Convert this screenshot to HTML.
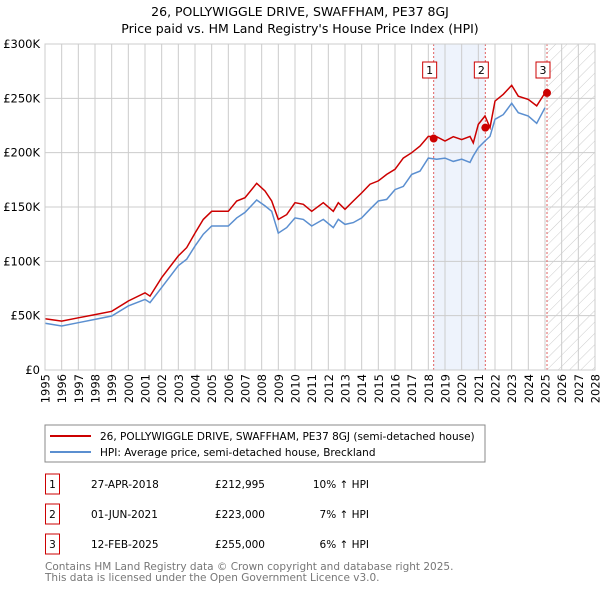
<!DOCTYPE html>
<html><head><meta charset="utf-8"><style>
body{margin:0;background:#fff;font-family:"DejaVu Sans","Liberation Sans",sans-serif;}
#wrap{position:relative;width:600px;height:590px;overflow:hidden}
</style></head><body><div id="wrap">
<svg id="svg" width="600" height="590" style="position:absolute;left:0;top:0" font-family="DejaVu Sans, Liberation Sans, sans-serif">
<defs><pattern id="hatch" patternUnits="userSpaceOnUse" width="8" height="8" patternTransform="rotate(45)"><line x1="0" y1="0" x2="0" y2="8" stroke="#ccc" stroke-width="1"/></pattern></defs>
<text x="300" y="16" text-anchor="middle" font-size="12.5">26, POLLYWIGGLE DRIVE, SWAFFHAM, PE37 8GJ</text>
<text x="300" y="33" text-anchor="middle" font-size="12.5">Price paid vs. HM Land Registry's House Price Index (HPI)</text>
<g id="plot"></g>
<rect x="45" y="425" width="440" height="37" fill="#fff" stroke="#888"/>
<line x1="50" y1="436" x2="91" y2="436" stroke="#cc0000" stroke-width="2"/>
<text x="100" y="440" font-size="10.5">26, POLLYWIGGLE DRIVE, SWAFFHAM, PE37 8GJ (semi-detached house)</text>
<line x1="50" y1="452" x2="91" y2="452" stroke="#5b8fd0" stroke-width="2"/>
<text x="100" y="456" font-size="10.5">HPI: Average price, semi-detached house, Breckland</text>
<g id="table" font-size="10.5"></g>
<text x="45" y="570" font-size="10.5" fill="#777">Contains HM Land Registry data © Crown copyright and database right 2025.</text>
<text x="45" y="581" font-size="10.5" fill="#777">This data is licensed under the Open Government Licence v3.0.</text>
</svg></div>
<script>
const hpiYears=[1995,1996,1997,1998,1999,2000,2001,2001.3,2002,2003,2003.5,2004,2004.5,2005,2006,2006.5,2007,2007.7,2008.2,2008.6,2009,2009.5,2010,2010.5,2011,2011.7,2012.3,2012.6,2013,2013.5,2014,2014.5,2015,2015.5,2016,2016.5,2017,2017.5,2018,2018.5,2019,2019.5,2020,2020.5,2020.7,2021,2021.4,2021.7,2022,2022.5,2023,2023.4,2024,2024.5,2025];
const hpiValues=[43,40.5,43.5,46.6,49.7,59,65,62,76,96,102,114,125,132.5,132.5,140,145,156.4,151,146,126,131,140,138.6,132.5,138.6,131,138.6,134,135.6,140,148,155.5,157,166,169,180,183,195,194,195,192,194,191,197,204.6,210.7,215,230.7,235,245.4,236.8,233.7,227,241.4];
const propValues=[47.2,45,48,51,54,63.5,71,68,85,105,112.6,126,138.6,146,146,155.5,158.6,171.8,164.7,155.5,138.6,143,154,152.5,146,154,146,154,147.9,155.5,163,171,174,180,184.7,195,200,206,215,214.7,210.7,214.7,212,215,209,226,233.7,223,247.5,253.7,262,252,249,243,255];
const saleYears=[2018.32,2021.42,2025.12];
const salePrices=[212.995,223,255];
const saleLabels=["1","2","3"];
const saleDates=["27-APR-2018","01-JUN-2021","12-FEB-2025"];
const salePriceText=["£212,995","£223,000","£255,000"];
const salePct=["10% ↑ HPI","7% ↑ HPI","6% ↑ HPI"];
const yTicks=[0,50,100,150,200,250,300];
const yTickLabels=["£0","£50K","£100K","£150K","£200K","£250K","£300K"];
const x0=45,x1=595,y0=370,y1=44,yr0=1995,yr1=2028,vmax=300;
const X=y=>x0+(y-yr0)/(yr1-yr0)*(x1-x0);
const Y=v=>y0-v/vmax*(y0-y1);
const NS="http://www.w3.org/2000/svg";
const plot=document.getElementById('plot');
function mk(tag,at,parent){const e=document.createElementNS(NS,tag);for(const k in at)e.setAttribute(k,at[k]);(parent||plot).appendChild(e);return e;}
let e=mk('rect',{x:X(saleYears[0]),y:y1,width:X(saleYears[1])-X(saleYears[0]),height:y0-y1,fill:'#eef3fc'});


e=mk('rect',{x:X(saleYears[2]),y:y1,width:x1-X(saleYears[2]),height:y0-y1,fill:'url(#hatch)'});


for(let yr=yr0;yr<=yr1;yr++){
 e=mk('line',{x1:X(yr),x2:X(yr),y1:y1,y2:y0,stroke:'#ccc','stroke-width':1});
 
 
 const tx=X(yr)+4.5,ty=374;
 e=mk('text',{x:tx,y:ty,'text-anchor':'end','font-size':11.5,transform:`rotate(-90 ${tx} ${ty})`});
 e.textContent=yr;
 
 
}
yTicks.forEach((v,i)=>{
 e=mk('line',{x1:x0,x2:x1,y1:Y(v),y2:Y(v),stroke:'#ccc','stroke-width':1});
 
 
 e=mk('text',{x:40,y:Y(v)+4,'text-anchor':'end','font-size':11.5});
 e.textContent=yTickLabels[i];
 
 
});
saleYears.forEach((s,i)=>{
 e=mk('line',{x1:X(s),x2:X(s),y1:y1,y2:y0,stroke:'#e06060','stroke-dasharray':'2,2','stroke-width':1});
 
 
});
function path(vals,col,name){
 const d=hpiYears.map((y,i)=>(i?'L':'M')+X(y).toFixed(1)+','+Y(vals[i]).toFixed(1)).join('');
 e=mk('path',{d:d,fill:'none',stroke:col,'stroke-width':1.5});
 
 
}
path(hpiValues,'#5b8fd0','hpi-line');
path(propValues,'#cc0000','property-line');
saleYears.forEach((s,i)=>{
 e=mk('circle',{cx:X(s),cy:Y(salePrices[i]),r:4,fill:'#cc0000'});
 
 
 const bx=X(s)-11;
 e=mk('rect',{x:bx,y:62,width:14,height:16,fill:'#fff',stroke:'#cc0000'});
 
 
 e=mk('text',{x:bx+7,y:74,'text-anchor':'middle','font-size':11});
 e.textContent=saleLabels[i];
 
 
});
mk('rect',{x:x0,y:y1,width:x1-x0,height:y0-y1,fill:'none',stroke:'#ccc'});
const tb=document.getElementById('table');
saleLabels.forEach((l,i)=>{
 const ry=483+i*30;
 e=mk('rect',{x:45.5,y:ry-9,width:14,height:20,fill:'#fff',stroke:'#cc0000'},tb);
 
 
 e=mk('text',{x:52.5,y:ry+5,'text-anchor':'middle'},tb);e.textContent=l;
 
 
 e=mk('text',{x:91,y:ry+5},tb);e.textContent=saleDates[i];
 
 
 e=mk('text',{x:265,y:ry+5,'text-anchor':'end'},tb);e.textContent=salePriceText[i];
 
 
 e=mk('text',{x:369,y:ry+5,'text-anchor':'end'},tb);e.textContent=salePct[i];
 
 
});
</script></body></html>
